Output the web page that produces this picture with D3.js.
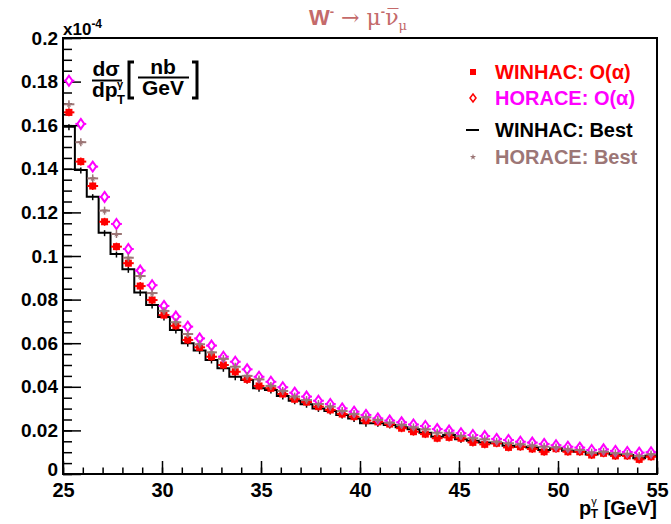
<!DOCTYPE html>
<html>
<head>
<meta charset="utf-8">
<script src="https://cdn.jsdelivr.net/npm/d3@7/dist/d3.min.js"></script>
<style>
	body { margin: 0; background: #fff; }
	text { font-family: "Liberation Sans", Arial, Helvetica, sans-serif; font-weight: bold; }
</style>
</head>
<body>
<svg width="671" height="524"></svg>
<script>
// pT(gamma) spectrum, W- -> mu- nubar, values in units of 1e-4 nb/GeV

// bins: 50 bins of 0.6 GeV from 25 to 55
const binLow = 25, binWidth = 0.6

const winhacAlpha = [0.1659,0.1433,0.1321,0.1157,0.1043,0.0967,0.0862,0.0798,0.0729,0.0680,
	0.0615,0.0581,0.0538,0.0500,0.0469,0.0434,0.0404,0.0393,0.0367,0.0343,
	0.0330,0.0309,0.0294,0.0275,0.0263,0.0245,0.0239,0.0229,0.0210,0.0194,
	0.0183,0.0164,0.0168,0.0164,0.0145,0.0136,0.0141,0.0122,0.0125,0.0115,
	0.0102,0.0116,0.0102,0.0102,0.0087,0.0095,0.0083,0.0083,0.0067,0.0079]

const horaceAlpha = [0.1804,0.1606,0.1410,0.1271,0.1147,0.1032,0.0933,0.0866,0.0771,0.0722,
	0.0676,0.0622,0.0589,0.0538,0.0515,0.0480,0.0446,0.0423,0.0398,0.0373,
	0.0355,0.0336,0.0321,0.0301,0.0286,0.0271,0.0255,0.0245,0.0237,0.0227,
	0.0220,0.0206,0.0199,0.0187,0.0179,0.0174,0.0161,0.0156,0.0148,0.0144,
	0.0138,0.0132,0.0125,0.0121,0.0110,0.0113,0.0106,0.0101,0.0098,0.0100]

const winhacBest = [0.1593,0.1394,0.1272,0.1107,0.1009,0.0939,0.0832,0.0775,0.0720,0.0661,
	0.0600,0.0566,0.0523,0.0485,0.0446,0.0431,0.0393,0.0385,0.0358,0.0336,
	0.0320,0.0301,0.0289,0.0271,0.0255,0.0233,0.0233,0.0225,0.0214,0.0205,
	0.0189,0.0171,0.0179,0.0159,0.0153,0.0145,0.0141,0.0130,0.0125,0.0122,
	0.0110,0.0118,0.0107,0.0102,0.0090,0.0095,0.0090,0.0087,0.0072,0.0084]

const horaceBest = [0.1696,0.1522,0.1356,0.1208,0.1101,0.0992,0.0908,0.0830,0.0748,0.0696,
	0.0642,0.0595,0.0558,0.0528,0.0492,0.0450,0.0434,0.0404,0.0381,0.0355,
	0.0339,0.0321,0.0309,0.0289,0.0275,0.0260,0.0248,0.0235,0.0225,0.0214,
	0.0205,0.0189,0.0187,0.0174,0.0164,0.0159,0.0148,0.0141,0.0136,0.0130,
	0.0125,0.0122,0.0113,0.0110,0.0098,0.0102,0.0095,0.0092,0.0083,0.0090]

const xTicks = [25,30,35,40,45,50,55]
const yTicks = [0,0.02,0.04,0.06,0.08,0.1,0.12,0.14,0.16,0.18,0.2]
const legendLabels = ['WINHAC: O(\u03b1)','HORACE: O(\u03b1)','WINHAC: Best','HORACE: Best']

const colRed = '#ff0000', colMag = '#ff00ff', colBrown = '#9c7676', colTitle = '#c46a6a'

const frame = {left: 63, right: 657, top: 38, bottom: 474}
const svg = d3.select('svg')

const x = d3.scaleLinear().domain([25,55]).range([frame.left, frame.right])
const y = d3.scaleLinear().domain([0,0.2]).range([frame.bottom, frame.top])

function bins(values){
	return values.map(function(v,i){
		var lo = binLow + i*binWidth
		return {lo: lo, hi: lo+binWidth, c: lo+binWidth/2, v: v}
	})
}

// minor ticks
svg.append('g').attr('transform','translate(0,'+frame.bottom+')')
	.call(d3.axisBottom(x).tickValues(d3.range(25,56,1)).tickSize(-6.5).tickFormat(''))
svg.append('g').attr('transform','translate('+frame.left+',0)')
	.call(d3.axisLeft(y).tickValues(d3.range(0,0.2001,0.005)).tickSize(-9).tickFormat(''))

// major ticks + labels
var xAxis = svg.append('g').attr('transform','translate(0,'+frame.bottom+')')
	.call(d3.axisBottom(x).tickValues(xTicks).tickSize(-13).tickPadding(7).tickFormat(d3.format('d')))
var yAxis = svg.append('g').attr('transform','translate('+frame.left+',0)')
	.call(d3.axisLeft(y).tickValues(yTicks).tickSize(-18).tickPadding(5).tickFormat(d3.format('~g')))

svg.selectAll('.domain').remove()
svg.selectAll('.tick line').attr('stroke','#000').attr('stroke-width',1.5)
xAxis.selectAll('text').attr('font-size',20).attr('fill','#000').attr('dy','0.8em')
yAxis.selectAll('text').attr('font-size',19).attr('fill','#000')
// "0" label sits a bit above its tick, as in the reference
yAxis.selectAll('.tick text').filter(function(d){ return d === 0 }).attr('dy','0.1em')

// WINHAC best: step histogram
var kb = bins(winhacBest)
var stepLine = d3.line().curve(d3.curveStepAfter)
	.x(function(d){ return x(d[0]) }).y(function(d){ return y(d[1]) })
var stepPts = kb.map(function(d){ return [d.lo,d.v] })
stepPts.push([kb[kb.length-1].hi, kb[kb.length-1].v])
svg.append('path').attr('d',stepLine(stepPts))
	.attr('fill','none').attr('stroke','#000').attr('stroke-width',2)
svg.append('g').selectAll('line').data(kb).join('line')
	.attr('x1',function(d){ return x(d.c) }).attr('x2',function(d){ return x(d.c) })
	.attr('y1',function(d){ return y(d.v)-2.5 }).attr('y2',function(d){ return y(d.v)+3.5 })
	.attr('stroke','#000').attr('stroke-width',1.5)

function errorBars(g, data, color, w){
	g.selectAll('line.h').data(data).join('line').attr('class','h')
		.attr('x1',function(d){ return x(d.lo)+0.5 }).attr('x2',function(d){ return x(d.hi)-0.5 })
		.attr('y1',function(d){ return y(d.v) }).attr('y2',function(d){ return y(d.v) })
		.attr('stroke',color).attr('stroke-width',w)
	g.selectAll('line.v').data(data).join('line').attr('class','v')
		.attr('x1',function(d){ return x(d.c) }).attr('x2',function(d){ return x(d.c) })
		.attr('y1',function(d){ return y(d.v)-4 }).attr('y2',function(d){ return y(d.v)+4 })
		.attr('stroke',color).attr('stroke-width',1.5)
}

// WINHAC O(alpha): filled squares
var rb = bins(winhacAlpha)
var gR = svg.append('g')
errorBars(gR, rb, colRed, 2)
gR.selectAll('rect').data(rb).join('rect')
	.attr('x',function(d){ return x(d.c)-3.5 }).attr('y',function(d){ return y(d.v)-3.5 })
	.attr('width',7).attr('height',7).attr('fill',colRed)

// HORACE O(alpha): open diamonds
var mb = bins(horaceAlpha)
var gM = svg.append('g')
errorBars(gM, mb, colMag, 2)
gM.selectAll('path').data(mb).join('path')
	.attr('d',function(d){
		var cx = x(d.c), cy = y(d.v)
		return 'M'+cx+','+(cy-5)+'L'+(cx+3.5)+','+cy+'L'+cx+','+(cy+5)+'L'+(cx-3.5)+','+cy+'Z'
	})
	.attr('fill','#fff').attr('stroke',colMag).attr('stroke-width',2)

// HORACE best: small stars
var bb = bins(horaceBest)
var gB = svg.append('g')
errorBars(gB, bb, colBrown, 2)
gB.selectAll('path').data(bb).join('path')
	.attr('transform',function(d){ return 'translate('+x(d.c)+','+y(d.v)+')' })
	.attr('d',d3.symbol(d3.symbolStar,14))
	.attr('fill',colBrown)

// frame
svg.append('rect').attr('x',frame.left).attr('y',frame.top)
	.attr('width',frame.right-frame.left).attr('height',frame.bottom-frame.top)
	.attr('fill','none').attr('stroke','#000').attr('stroke-width',2)

// exponent
var ex = svg.append('text').attr('x',63).attr('y',35).attr('font-size',17).attr('fill','#000')
ex.append('tspan').text('x10')
ex.append('tspan').attr('dy',-7).attr('font-size',12).text('-4')

// title
var t = svg.append('text').attr('x',358).attr('y',25).attr('text-anchor','middle')
	.attr('fill',colTitle).attr('font-size',22)
t.append('tspan').text('W')
t.append('tspan').attr('dy',-9).attr('font-size',13).text('-')
t.append('tspan').attr('dy',9).attr('font-weight','normal').attr('font-family','DejaVu Serif').text(' \u2192 \u03bc')
t.append('tspan').attr('dy',-9).attr('font-size',13).text('-')
t.append('tspan').attr('dy',9).attr('font-weight','normal').attr('font-family','DejaVu Serif').text('\u03bd\u0305')
t.append('tspan').attr('dy',5).attr('font-size',13).attr('font-weight','normal').attr('font-family','DejaVu Serif').text('\u03bc')

// y title: d sigma / d pT [nb/GeV]
var yl = svg.append('g').attr('fill','#000')
yl.append('text').attr('x',106).attr('y',76).attr('text-anchor','middle').attr('font-size',21).text('d\u03c3')
yl.append('line').attr('x1',92).attr('x2',122).attr('y1',80.5).attr('y2',80.5).attr('stroke','#000').attr('stroke-width',2)
yl.append('text').attr('x',92).attr('y',97).attr('font-size',21).text('dp')
yl.append('text').attr('x',117).attr('y',88).attr('font-size',11).attr('font-weight','normal').text('\u03b3')
yl.append('text').attr('x',117).attr('y',104).attr('font-size',13).text('T')
yl.append('path').attr('d','M134,62H129V98H134').attr('fill','none').attr('stroke','#000').attr('stroke-width',3)
yl.append('path').attr('d','M192,62H197V98H192').attr('fill','none').attr('stroke','#000').attr('stroke-width',3)
yl.append('text').attr('x',163).attr('y',74).attr('text-anchor','middle').attr('font-size',21).text('nb')
yl.append('line').attr('x1',138).attr('x2',189).attr('y1',77.5).attr('y2',77.5).attr('stroke','#000').attr('stroke-width',2)
yl.append('text').attr('x',163).attr('y',95).attr('text-anchor','middle').attr('font-size',21).text('GeV')

// x title
var xt = svg.append('text').attr('x',657).attr('y',515).attr('text-anchor','end').attr('font-size',20).attr('fill','#000')
xt.append('tspan').text('p')
xt.append('tspan').attr('dy',-10).attr('font-size',11).attr('font-weight','normal').text('\u03b3')
xt.append('tspan').attr('dx',-6).attr('dy',13).attr('font-size',12).text('T')
xt.append('tspan').attr('dy',-3).text(' [GeV]')

// legend
var legColors = [colRed, colMag, '#000', colBrown]
var legY = [72, 98, 130, 157]
var leg = svg.append('g')
leg.selectAll('text').data(legendLabels).join('text')
	.attr('x',495).attr('y',function(d,i){ return legY[i] }).attr('dy','0.36em')
	.attr('font-size',20).attr('fill',function(d,i){ return legColors[i] })
	.text(function(d){ return d })
leg.append('rect').attr('x',470).attr('y',legY[0]-3).attr('width',6).attr('height',6).attr('fill',colRed)
leg.append('path').attr('d','M473,'+(legY[1]-4)+'l3,4l-3,4l-3,-4z').attr('fill','none').attr('stroke',colRed).attr('stroke-width',1.5)
leg.append('line').attr('x1',466).attr('x2',479).attr('y1',legY[2]).attr('y2',legY[2]).attr('stroke','#000').attr('stroke-width',2)
leg.append('path').attr('transform','translate(473,'+legY[3]+')').attr('d',d3.symbol(d3.symbolStar,12)).attr('fill',colBrown)
</script>
</body>
</html>
